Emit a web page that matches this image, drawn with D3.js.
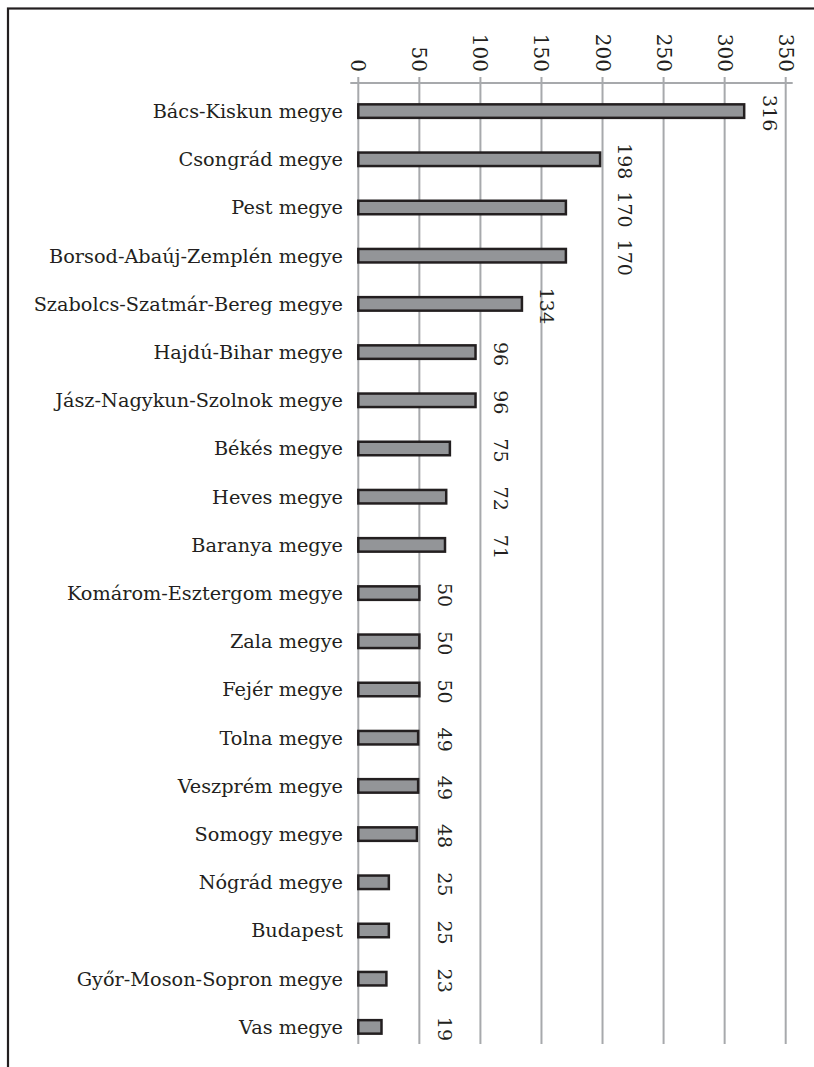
<!DOCTYPE html>
<html><head><meta charset="utf-8">
<script src="https://cdn.jsdelivr.net/npm/d3@7"></script>
<style>
html,body{margin:0;padding:0;background:#fff;}
svg{display:block;}
text{font-family:"DejaVu Serif",Georgia,serif;fill:#231f20;}
</style></head>
<body>
<svg id="chart" width="814" height="1067"></svg>
<script>
const categories = ["Bács-Kiskun megye","Csongrád megye","Pest megye","Borsod-Abaúj-Zemplén megye","Szabolcs-Szatmár-Bereg megye","Hajdú-Bihar megye","Jász-Nagykun-Szolnok megye","Békés megye","Heves megye","Baranya megye","Komárom-Esztergom megye","Zala megye","Fejér megye","Tolna megye","Veszprém megye","Somogy megye","Nógrád megye","Budapest","Győr-Moson-Sopron megye","Vas megye"];
const values = [316,198,170,170,134,96,96,75,72,71,50,50,50,49,49,48,25,25,23,19];
// value (in data units) at which each data label is anchored in the original layout
const labelAnchors = [316,198,198,198,134,96,96,96,96,96,50,50,50,50,50,50,50,50,50,50];
const tickValues = [0,50,100,150,200,250,300,350];

const svg = d3.select("#chart");
svg.append("rect").attr("width",814).attr("height",1067).attr("fill","#fff");
// frame (cropped on right/bottom)
svg.append("rect").attr("x",8).attr("y",8.5).attr("width",900).attr("height",1200)
  .attr("fill","none").attr("stroke","#231f20").attr("stroke-width",2.2);

const x = d3.scaleLinear().domain([0,350]).range([358.3,785.7]);
const y = d3.scaleBand().domain(categories).range([87,1051]).paddingInner(0.72).paddingOuter(0.36);

const gridTop = 77, gridBottom = 1044, axisY = 83;

// gridlines
svg.append("g").selectAll("line").data(tickValues).join("line")
  .attr("x1",d=>x(d)).attr("x2",d=>x(d)).attr("y1",gridTop).attr("y2",gridBottom)
  .attr("stroke","#a7a9ac").attr("stroke-width",2);
// top axis line
svg.append("line").attr("x1",x(0)-8).attr("x2",x(350)+7).attr("y1",axisY).attr("y2",axisY)
  .attr("stroke","#a7a9ac").attr("stroke-width",2);

// tick labels (rotated)
svg.append("g").selectAll("text").data(tickValues).join("text")
  .attr("transform",d=>`translate(${x(d)},72) rotate(90)`)
  .attr("text-anchor","end").attr("dy","0.35em")
  .style("font-size","20px").text(d=>d);

// bars
svg.append("g").selectAll("rect").data(values).join("rect")
  .attr("x",x(0)).attr("y",(d,i)=>y(categories[i]))
  .attr("width",d=>x(d)-x(0)).attr("height",y.bandwidth())
  .attr("fill","#939598").attr("stroke","#231f20").attr("stroke-width",2.5);

// category labels
svg.append("g").selectAll("text").data(categories).join("text")
  .attr("x",343).attr("y",d=>y(d)+y.bandwidth()/2).attr("dy","0.36em")
  .attr("text-anchor","end").style("font-size","19.3px").text(d=>d);

// value labels (rotated)
svg.append("g").selectAll("text").data(values).join("text")
  .attr("transform",(d,i)=>`translate(${x(labelAnchors[i])+25},${y(categories[i])+y.bandwidth()/2+2}) rotate(90)`)
  .attr("text-anchor","middle").attr("dy","0.35em")
  .style("font-size","19px").text(d=>d);
</script>
</body></html>
